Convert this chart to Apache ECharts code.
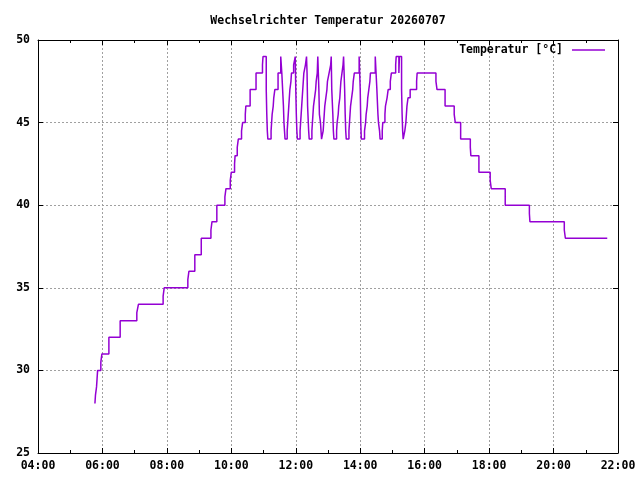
<!DOCTYPE html>
<html>
<head>
<meta charset="utf-8">
<script src="https://cdn.jsdelivr.net/npm/echarts@6/dist/echarts.min.js"></script>
<style>html,body{margin:0;padding:0;background:#fff}#c{width:640px;height:480px}</style>
</head>
<body>
<div id="c"></div>
<script>
const titleText = 'Wechselrichter Temperatur 20260707';
const seriesName = 'Temperatur [°C]';
const xTickMin = 240, xTickMax = 1320, xTickStep = 120;   // minutes: 04:00 .. 22:00
const yTickMin = 25, yTickMax = 50, yTickStep = 5;

const times = [
 '05:46','05:47','05:49','05:50','05:51','05:57','05:59','06:12','06:33','07:04','07:07','07:53','07:55',
 '08:39','08:41','08:52','09:04','09:22','09:24','09:33','09:48','09:50','09:58','10:00','10:06','10:07',
 '10:11','10:13','10:19','10:21','10:26','10:27','10:35','10:46','10:58','10:59',
 '11:05','11:06','11:07','11:08',
 '11:14','11:15','11:16','11:18','11:19','11:21','11:27','11:32','11:34','11:37','11:38','11:39','11:40',
 '11:44','11:45','11:46','11:47','11:48','11:49','11:51','11:52','11:56','11:59','12:00','12:01','12:02','12:03',
 '12:08','12:09','12:10','12:11','12:12','12:13','12:15','12:18','12:20','12:21','12:22','12:24','12:25',
 '12:30','12:31','12:32','12:33','12:35','12:37','12:38','12:40','12:41','12:43','12:44','12:46','12:47','12:48',
 '12:51','12:52','12:53','12:54','12:56','12:58','12:59','13:02','13:05','13:06','13:07','13:09','13:10','13:11',
 '13:16','13:17','13:19','13:20','13:22','13:23','13:24','13:26','13:28','13:29','13:31','13:32','13:33','13:34',
 '13:39','13:40','13:41','13:42','13:44','13:46','13:47','13:49','13:58','14:00','14:01','14:02',
 '14:08','14:10','14:11','14:13','14:14','14:16','14:18','14:19','14:28','14:31','14:33','14:34','14:36','14:37',
 '14:41','14:42','14:46','14:47','14:50','14:52','14:56','14:58','15:06','15:07','15:12','15:13','15:17','15:18','15:19','15:20',
 '15:23','15:25','15:26','15:27','15:29','15:33','15:45','15:46',
 '16:21','16:23','16:38','16:55','16:57','17:07','17:25','17:26','17:41','18:02','18:04','18:30',
 '19:15','19:16','20:20','20:22','21:40'
];
const temps = [
 28,28.5,29,29.5,30,30.5,31,32,33,33.5,34,34.5,35,
 35.5,36,37,38,38.5,39,40,40.5,41,41.5,42,42.5,43,
 43.5,44,44.5,45,45.5,46,47,48,48.5,49,
 47,45.5,44.5,44,
 44.5,45,45.5,46,46.5,47,48,49,48,46,45,44.5,44,
 44.5,45,45.5,46,46.5,47,47.5,48,48.5,49,47,45.5,44.5,44,
 44.5,45,45.5,46,46.5,47,48,48.5,49,48,46,44.5,44,
 44.5,45,45.5,46,46.5,47,47.5,48,49,47,45.5,45,44.5,44,
 44.5,45,45.5,46,46.5,47,47.5,48,48.5,49,47,45.5,44.5,44,
 44.5,45,45.5,46,46.5,47,47.5,48,48.5,49,47,45.5,44.5,44,
 44.5,45,45.5,46,46.5,47,47.5,48,49,47,45,44,
 44.5,45,45.5,46,46.5,47,47.5,48,49,47,45.5,45,44.5,44,
 44.5,45,45.5,46,46.5,47,47.5,48,48.5,49,48,49,47,45.5,44.5,44,
 44.5,45,45.5,46,46.5,47,47.5,48,
 47.5,47,46,45.5,45,44,43.5,43,42,41.5,41,40,
 39.5,39,38.5,38,38
];

function toMin(s){ const p = s.split(':'); return (+p[0])*60 + (+p[1]); }
function fmt(v){ const h = Math.floor(v/60), m = Math.round(v%60); return String(h).padStart(2,'0')+':'+String(m).padStart(2,'0'); }

const FONT = '"DejaVu Sans Mono", "Liberation Mono", monospace';
const labelStyle = {color:'#000', fontFamily: FONT, fontWeight:'bold', fontSize: 11.5};
const gridLine = {show:true, lineStyle:{color:'#a0a0a0', width:1, type:[2,2]}, showMinLine:false, showMaxLine:false};

const chart = echarts.init(document.getElementById('c'), null, {renderer:'canvas'});
chart.setOption({
  animation:false,
  backgroundColor:'#fff',
  graphic:[{type:'text', x:328, y:21, style:{text:titleText, textAlign:'center', textVerticalAlign:'middle',
    font:'bold 11.5px "DejaVu Sans Mono", monospace', fill:'#000'}}],
  legend:{
    data:[seriesName], right:35, top:44, align:'right', icon:'rect', itemWidth:33, itemHeight:1.3, itemGap:8,
    itemStyle:{color:'#9400d3', borderWidth:0},
    textStyle: Object.assign({padding:[0,4,0,0]}, labelStyle), padding:0
  },
  grid:{left:38, right:22, top:40, bottom:27, containLabel:false},
  xAxis:[{
    type:'value', min:xTickMin, max:xTickMax, interval:xTickStep, position:'bottom',
    axisLine:{show:true, onZero:false, lineStyle:{color:'#000', width:1}},
    axisTick:{show:true, inside:true, length:5, lineStyle:{color:'#000'}},
    minorTick:{show:true, splitNumber:2, length:3, lineStyle:{color:'#000'}},
    axisLabel: Object.assign({formatter:fmt, margin:7}, labelStyle),
    splitLine: gridLine
  },{
    type:'value', min:xTickMin, max:xTickMax, interval:xTickStep, position:'top',
    axisLine:{show:true, onZero:false, lineStyle:{color:'#000', width:1}},
    axisTick:{show:true, inside:true, length:5, lineStyle:{color:'#000'}},
    minorTick:{show:true, splitNumber:2, length:3, lineStyle:{color:'#000'}},
    axisLabel:{show:false}, splitLine:{show:false}
  }],
  yAxis:[{
    type:'value', min:yTickMin, max:yTickMax, interval:yTickStep, position:'left',
    axisLine:{show:true, onZero:false, lineStyle:{color:'#000', width:1}},
    axisTick:{show:true, inside:true, length:5, lineStyle:{color:'#000'}},
    axisLabel: Object.assign({margin:8}, labelStyle),
    splitLine: gridLine
  },{
    type:'value', min:yTickMin, max:yTickMax, interval:yTickStep, position:'right',
    axisLine:{show:true, onZero:false, lineStyle:{color:'#000', width:1}},
    axisTick:{show:true, inside:true, length:5, lineStyle:{color:'#000'}},
    axisLabel:{show:false}, splitLine:{show:false}
  }],
  series:[{
    name:seriesName, type:'line', step:'end', symbol:'none', xAxisIndex:0, yAxisIndex:0,
    color:'#9400d3', lineStyle:{color:'#9400d3', width:1.5},
    data: times.map((t,i)=>[toMin(t), temps[i]])
  }]
});
</script>
</body>
</html>
